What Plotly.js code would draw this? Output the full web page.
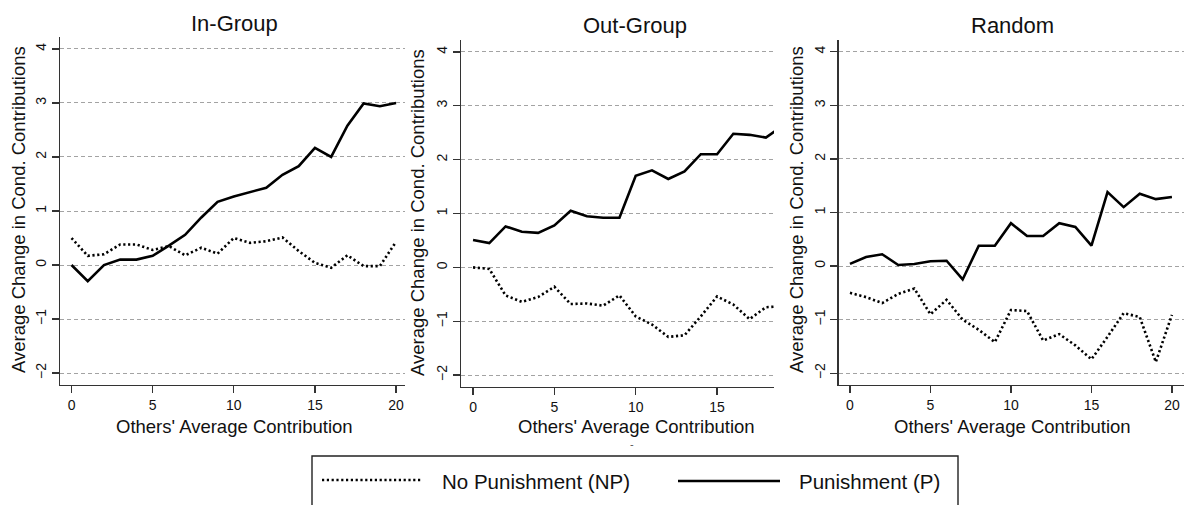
<!DOCTYPE html>
<html>
<head>
<meta charset="utf-8">
<script src="https://cdn.plot.ly/plotly-3.0.1.min.js"></script>
<style>
  html, body { margin: 0; padding: 0; background: #fff; }
  #chart { width: 1184px; height: 505px; }
</style>
</head>
<body>
<div id="chart"></div>
<script>
// ---- data ----
const contribution = [0,1,2,3,4,5,6,7,8,9,10,11,12,13,14,15,16,17,18,19,20];
const panelTitles = ["In-Group", "Out-Group", "Random"];
const seriesNames = ["No Punishment (NP)", "Punishment (P)"];

const inGroupNP  = [0.50,0.17,0.20,0.38,0.38,0.28,0.35,0.18,0.32,0.21,0.50,0.41,0.44,0.51,0.26,0.04,-0.05,0.18,-0.02,-0.02,0.43];
const inGroupP   = [0.00,-0.30,0.00,0.10,0.10,0.17,0.36,0.56,0.88,1.17,1.27,1.35,1.43,1.67,1.83,2.17,2.00,2.58,2.99,2.94,3.00];

const outGroupNP = [0.00,-0.03,-0.52,-0.64,-0.55,-0.36,-0.68,-0.67,-0.71,-0.52,-0.91,-1.06,-1.29,-1.26,-0.91,-0.54,-0.69,-0.96,-0.74,-0.72];
const outGroupP  = [0.51,0.45,0.76,0.66,0.64,0.78,1.05,0.95,0.92,0.92,1.70,1.80,1.64,1.78,2.10,2.10,2.48,2.46,2.41,2.62];

const randomNP   = [-0.50,-0.58,-0.69,-0.52,-0.42,-0.90,-0.63,-1.00,-1.19,-1.42,-0.82,-0.84,-1.39,-1.27,-1.48,-1.74,-1.32,-0.88,-0.95,-1.79,-0.91];
const randomP    = [0.04,0.17,0.22,0.02,0.04,0.09,0.10,-0.25,0.38,0.38,0.80,0.56,0.56,0.80,0.73,0.38,1.38,1.10,1.35,1.25,1.29];

const yTicks = [-2,-1,0,1,2,3,4];
const xTicks = [0,5,10,15,20];
const yTitleText = "Average Change in Cond. Contributions";
const xTitleText = "Others' Average Contribution";

// ---- layout helpers ----
const W = 1184, H = 505;
const px = v => v / W;
const py = v => 1 - v / H;
const FONT = '"Liberation Sans", Arial, Helvetica, sans-serif';
const INK = '#111';
const AXIS = '#333';

const npLine = { color: '#000', width: 2.6, dash: '2.2px,2.6px' };
const pLine  = { color: '#000', width: 2.6 };

function series(x, y, line, xa, ya, name) {
  return { x: x.slice(0, y.length), y: y, type: 'scatter', mode: 'lines',
           line: line, xaxis: xa, yaxis: ya, name: name, showlegend: false,
           hoverinfo: 'skip' };
}

const data = [
  series(contribution, inGroupNP,  npLine, 'x',  'y',  seriesNames[0]),
  series(contribution, inGroupP,   pLine,  'x',  'y',  seriesNames[1]),
  series(contribution, outGroupNP, npLine, 'x2', 'y2', seriesNames[0]),
  series(contribution, outGroupP,  pLine,  'x2', 'y2', seriesNames[1]),
  series(contribution, randomNP,   npLine, 'x3', 'y3', seriesNames[0]),
  series(contribution, randomP,    pLine,  'x3', 'y3', seriesNames[1])
];

function xAxis(d, range, anchor) {
  return { domain: d, range: range, anchor: anchor, tickvals: xTicks,
           showgrid: false, zeroline: false, showline: true,
           linecolor: AXIS, linewidth: 1.4, ticks: 'outside', ticklen: 7,
           tickwidth: 1.3, tickcolor: AXIS,
           tickfont: { family: FONT, size: 14, color: INK } };
}
function yAxis(d, anchor) {
  return { domain: d, range: [-2.22, 4.22], anchor: anchor, tickvals: yTicks,
           tickangle: -90, showgrid: true, gridcolor: '#a3a3a3', gridwidth: 1,
           griddash: '4px,3px', zeroline: false, showline: true,
           linecolor: AXIS, linewidth: 1.4, ticks: 'outside', ticklen: 7,
           tickwidth: 1.3, tickcolor: AXIS,
           tickfont: { family: FONT, size: 14, color: INK } };
}

function ann(text, x, y, size, opts) {
  return Object.assign({ text: text, x: px(x), y: py(y), xref: 'paper', yref: 'paper',
           showarrow: false, xanchor: 'center', yanchor: 'middle',
           font: { family: FONT, size: size, color: INK } }, opts || {});
}

const annotations = [
  ann(panelTitles[0], 234, 23, 22),
  ann(panelTitles[1], 635, 25, 22),
  ann(panelTitles[2], 1012, 25, 22),
  ann(yTitleText, 19, 210, 18.5, { textangle: -90 }),
  ann(yTitleText, 418, 212, 18.5, { textangle: -90 }),
  ann(yTitleText, 797, 210, 18.5, { textangle: -90 }),
  ann(xTitleText, 234, 426, 18.5),
  ann(xTitleText, 636, 426, 18.5),
  ann(xTitleText, 1012, 426, 18.5),
  ann('-', 632, 444, 11, { font: { family: FONT, size: 11, color: '#555' } }),
  ann(seriesNames[0], 440, 481, 20.5, { xanchor: 'left' }),
  ann(seriesNames[1], 797, 481, 20.5, { xanchor: 'left' })
];

const shapes = [
  { type: 'rect', xref: 'paper', yref: 'paper', x0: px(312), x1: px(958), y0: py(456), y1: py(540),
    line: { color: '#222', width: 1.4 }, fillcolor: 'rgba(0,0,0,0)' },
  { type: 'line', xref: 'paper', yref: 'paper', x0: px(322), x1: px(421), y0: py(480), y1: py(480),
    line: { color: '#000', width: 2.6, dash: '2.2px,2.6px' } },
  { type: 'line', xref: 'paper', yref: 'paper', x0: px(678), x1: px(780), y0: py(481), y1: py(481),
    line: { color: '#000', width: 2.6 } }
];

const layout = {
  width: W, height: H,
  margin: { l: 0, r: 0, t: 0, b: 0 },
  paper_bgcolor: '#fff', plot_bgcolor: '#fff',
  showlegend: false,
  font: { family: FONT, color: INK },
  xaxis:  xAxis([px(60), px(405)],    [-0.71, 20.55], 'y'),
  yaxis:  yAxis([py(385), py(37)], 'x'),
  xaxis2: xAxis([px(461), px(774)],   [-0.74, 18.5], 'y2'),
  yaxis2: yAxis([py(387), py(40)], 'x2'),
  xaxis3: xAxis([px(838.7), px(1184)], [-0.70, 20.75], 'y3'),
  yaxis3: yAxis([py(385), py(40)], 'x3'),
  annotations: annotations,
  shapes: shapes
};

Plotly.newPlot('chart', data, layout, { staticPlot: true, displayModeBar: false });
</script>
</body>
</html>
